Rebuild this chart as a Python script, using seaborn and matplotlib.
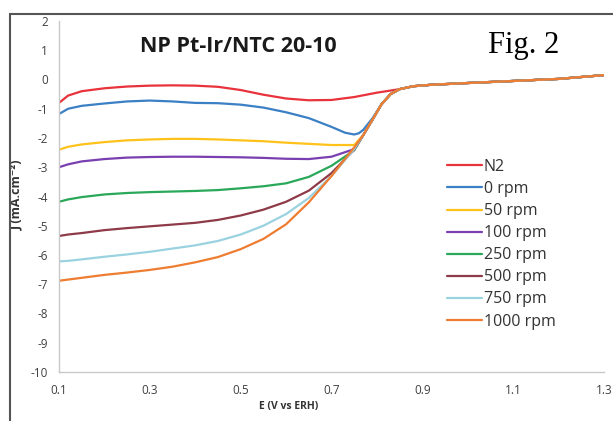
import matplotlib
matplotlib.use("Agg")
import matplotlib.pyplot as plt
import seaborn as sns
import pandas as pd
from matplotlib.patches import Rectangle
from matplotlib.lines import Line2D

# ---------------- data ----------------
series_names = ["N2", "0 rpm", "50 rpm", "100 rpm", "250 rpm", "500 rpm", "750 rpm", "1000 rpm"]
colors = ["#e8323c", "#3b7fc4", "#ffc21a", "#7a3fb0", "#2aa85a", "#8e3a48", "#9ad2e0", "#ee7d31"]

E_low = [0.10, 0.12, 0.15, 0.20, 0.25, 0.30, 0.35, 0.40, 0.45, 0.50, 0.55, 0.60, 0.65, 0.70, 0.75]
E_tail = [0.77, 0.79, 0.81, 0.83, 0.85, 0.88, 0.92, 1.00, 1.10, 1.20, 1.30]
J_tail = [-1.90, -1.38, -0.85, -0.50, -0.33, -0.23, -0.18, -0.12, -0.05, 0.02, 0.15]

E_n2 = [0.10, 0.12, 0.15, 0.20, 0.25, 0.30, 0.35, 0.40, 0.45, 0.50, 0.55, 0.60, 0.65, 0.70,
        0.75, 0.80, 0.85, 0.88, 0.92, 1.00, 1.10, 1.20, 1.30]
J_n2 = [-0.80, -0.55, -0.40, -0.30, -0.24, -0.21, -0.20, -0.21, -0.25, -0.36, -0.52, -0.65, -0.71, -0.70,
        -0.60, -0.45, -0.33, -0.23, -0.18, -0.12, -0.05, 0.02, 0.15]

E_0 = [0.10, 0.12, 0.15, 0.20, 0.25, 0.30, 0.35, 0.40, 0.45, 0.50, 0.55, 0.60, 0.65, 0.70, 0.73, 0.75,
       0.76, 0.77, 0.79, 0.81, 0.83, 0.85, 0.88, 0.92, 1.00, 1.10, 1.20, 1.30]
J_0 = [-1.18, -1.00, -0.90, -0.82, -0.75, -0.72, -0.75, -0.80, -0.81, -0.86, -0.96, -1.12, -1.32, -1.62, -1.82, -1.88,
       -1.84, -1.72, -1.33, -0.85, -0.50, -0.33, -0.23, -0.18, -0.12, -0.05, 0.02, 0.15]

J_50 = [-2.40, -2.30, -2.22, -2.14, -2.08, -2.05, -2.03, -2.03, -2.05, -2.08, -2.11, -2.16, -2.20, -2.24, -2.24]
J_100 = [-3.00, -2.90, -2.80, -2.72, -2.67, -2.65, -2.64, -2.64, -2.65, -2.66, -2.68, -2.71, -2.72, -2.64, -2.38]
J_250 = [-4.18, -4.10, -4.02, -3.93, -3.88, -3.85, -3.83, -3.81, -3.78, -3.72, -3.65, -3.55, -3.33, -2.95, -2.42]
J_500 = [-5.35, -5.30, -5.25, -5.15, -5.08, -5.02, -4.96, -4.90, -4.80, -4.65, -4.45, -4.18, -3.80, -3.20, -2.40]
J_750 = [-6.22, -6.20, -6.15, -6.06, -5.98, -5.89, -5.78, -5.67, -5.52, -5.30, -5.00, -4.60, -4.05, -3.30, -2.38]
J_1000 = [-6.88, -6.84, -6.78, -6.68, -6.60, -6.51, -6.40, -6.25, -6.07, -5.80, -5.45, -4.95, -4.20, -3.30, -2.32]

x_ticks = [0.1, 0.3, 0.5, 0.7, 0.9, 1.1, 1.3]
y_ticks = [-10, -9, -8, -7, -6, -5, -4, -3, -2, -1, 0, 1, 2]

# ---------------- build long table ----------------
rows = []
def add(name, xs, ys):
    for i, (x, y) in enumerate(zip(xs, ys)):
        rows.append({"series": name, "E": x, "J": y, "order": i})

add("N2", E_n2, J_n2)
add("0 rpm", E_0, J_0)
for name, ys in zip(series_names[2:], [J_50, J_100, J_250, J_500, J_750, J_1000]):
    add(name, E_low + E_tail, ys + J_tail)
df = pd.DataFrame(rows)

# ---------------- plot ----------------
sns.set_style("white")
plt.rcParams["font.family"] = ["Open Sans", "DejaVu Sans"]

fig = plt.figure(figsize=(6.13, 4.21), dpi=100)
ax = fig.add_axes([59/613, 1 - 372/421, 545/613, 351/421])

palette = dict(zip(series_names, colors))
for name in series_names:
    sub = df[df["series"] == name]
    sns.lineplot(data=sub, x="E", y="J", color=palette[name], ax=ax, sort=False,
                 linewidth=1.6, estimator=None, legend=False)

ax.set_xlim(0.1, 1.3)
ax.set_ylim(-10, 2)
ax.set_xticks(x_ticks)
ax.set_xticklabels([f"{v:.1f}" for v in x_ticks])
ax.set_yticks(y_ticks)
ax.set_yticklabels([str(v) for v in y_ticks])
ax.tick_params(axis="both", labelsize=8.5, colors="#404040", length=4, width=0.8, direction="out")
ax.tick_params(axis="both", color="#c0c0c0")
ax.tick_params(axis="x", pad=5)
ax.tick_params(axis="y", pad=4)
for s in ["top", "right"]:
    ax.spines[s].set_visible(False)
for s in ["left", "bottom"]:
    ax.spines[s].set_color("#c8c8c8")
    ax.spines[s].set_linewidth(1.0)

ax.set_xlabel("E (V vs ERH)", fontsize=7.5, fontweight="bold", color="#333333")
ax.xaxis.set_label_coords(0.422, -0.082)
ax.set_ylabel("J (mA.cm⁻²)", fontsize=9, fontweight="bold", color="#333333")
ax.yaxis.set_label_coords(-0.066, 0.504)

handles = [Line2D([], [], color=c, linewidth=1.6) for c in colors]
leg = ax.legend(handles, series_names, loc="upper left", bbox_to_anchor=(0.70, 0.625),
                frameon=False, fontsize=11.5, handlelength=2.2, handletextpad=0.12,
                labelspacing=0.38, borderaxespad=0)
for t in leg.get_texts():
    t.set_color("#333333")

fig.text(238/613, 1 - 47/421, "NP Pt-Ir/NTC 20-10", fontsize=15.5, fontweight="bold",
         ha="center", va="center", color="#1a1a1a")
fig.text(524/613, 1 - 46/421, "Fig. 2", fontsize=22, family="Liberation Serif",
         ha="center", va="center", color="black")

frame = Rectangle((9.5/613, -0.05), 1.0, 1 - 13.5/421 + 0.05, transform=fig.transFigure,
                  fill=False, edgecolor="#555555", linewidth=1.5, clip_on=False)
fig.patches.append(frame)

fig.savefig("out.png", dpi=100)
